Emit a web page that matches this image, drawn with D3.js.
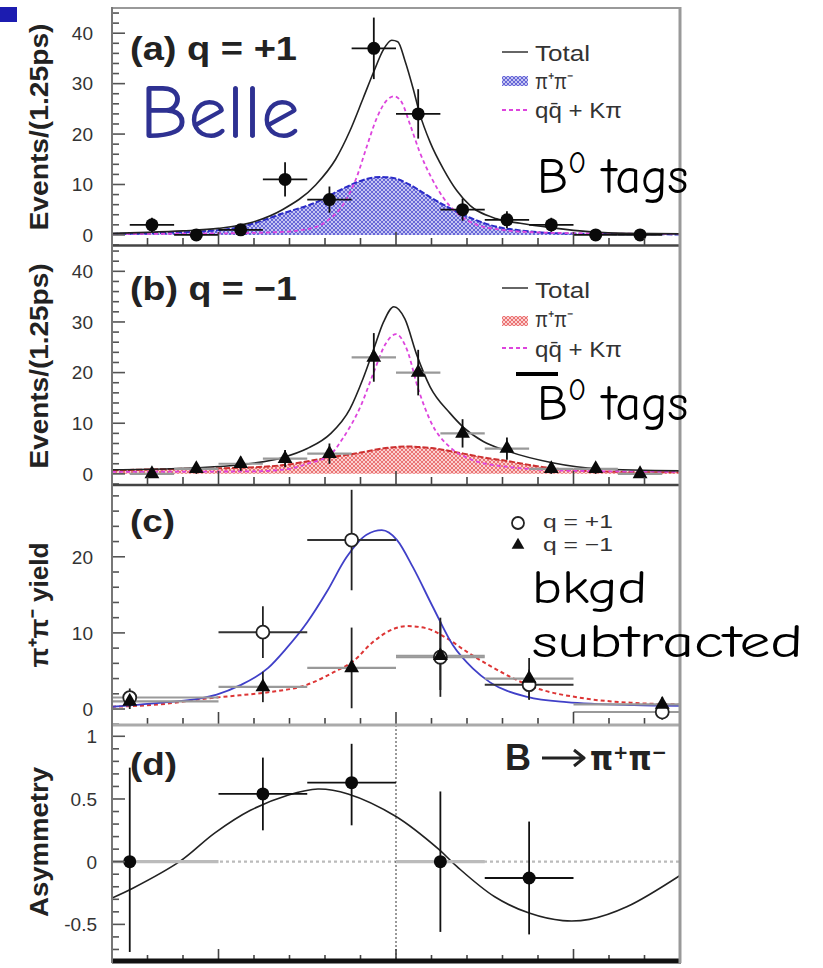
<!DOCTYPE html>
<html><head><meta charset="utf-8">
<script src="https://cdn.jsdelivr.net/npm/d3@7"></script>
<style>body{margin:0;background:#fff}</style>
</head><body>
<svg id="c" width="823" height="968" xmlns="http://www.w3.org/2000/svg"></svg>
<script>
// ---------------- DATA ----------------
// Panels (a),(b): 1.25 ps bins
const binCentersAB = [-6.875,-5.625,-4.375,-3.125,-1.875,-0.625,0.625,1.875,3.125,4.375,5.625,6.875];
const binHalfAB = 0.625;
const eventsA = [2,0,1,11,7,37,24,5,3,2,0,0];
const errA    = [1.4,0,1,3.4,2.6,6.1,4.9,2.2,1.7,1.4,0,0];
const eventsB = [0,1,2,3,4,23,20,8,5,1,1,0];
const errB    = [0,1,1.4,1.7,2,4.8,4.5,2.8,2.2,1,1,0];

// Panel (a) curves
const totalA_t = [-8,-7,-6,-5,-4.1,-3.2,-2.25,-1.7,-1.3,-0.92,-0.63,-0.35,-0.12,0.05,0.25,0.48,0.67,0.96,1.34,1.71,2.09,2.84,3.5,4.4,5.5,6.5,8];
const totalA_v = [0.3,0.5,0.8,1.3,2.4,5.0,10.0,15.0,20.6,27.2,32.3,36.8,38.6,38.3,34.6,29.1,24.0,18.4,13.0,8.8,5.8,3.2,2.3,1.4,0.6,0.3,0.2];
const bkgA_t = [-8,-5,-3.2,-2.24,-1.9,-1.49,-1.1,-0.82,-0.54,-0.26,-0.05,0.16,0.4,0.67,1.0,1.34,1.71,2.28,3,4,5.5,8];
const bkgA_v = [0.2,0.3,0.6,1.6,3.0,6.0,11.6,17.6,23.2,26.7,27.5,26.3,21.8,16.4,11.3,7.3,4.4,2.0,1.0,0.5,0.3,0.2];
const sigA_t = [-8,-6.5,-5.5,-4.6,-4.1,-3.18,-2.24,-1.49,-0.92,-0.45,-0.08,0.4,0.96,1.52,2.09,2.84,3.5,4.3,5.5,8];
const sigA_v = [0.2,0.4,0.7,1.3,2.1,4.3,6.5,9.2,10.9,11.5,11.3,9.9,7.5,5.3,3.4,1.6,0.9,0.4,0.2,0.1];

// Panel (b) curves
const totalB_t = [-8,-6.9,-5.6,-4.4,-3.2,-2.5,-1.85,-1.3,-0.93,-0.63,-0.35,-0.06,0.25,0.58,0.96,1.52,1.9,2.46,3.1,4.4,5.7,8];
const totalB_v = [0.8,0.9,1.2,1.8,3.2,5.0,7.9,12.8,18.8,24.6,30.0,33.0,30.6,23.6,17.2,12.0,9.2,6.4,4.6,2.2,1.0,0.6];
const bkgB_t = [-8,-4,-3,-2.5,-1.85,-1.5,-1.0,-0.63,-0.3,0,0.3,0.63,1.0,1.5,2.0,3.0,5,8];
const bkgB_v = [0.4,0.5,1.0,2.0,3.8,7.0,13.3,20,25.6,27.6,24.7,16.7,10,5.4,3.2,1.5,0.6,0.4];
const sigB_t = [-8,-6,-4.4,-3.1,-2.0,-1.0,-0.3,0.3,1.0,1.9,2.5,2.9,4.3,5.7,8];
const sigB_v = [0.7,1.0,1.2,1.8,3.1,4.2,5.1,5.4,5.1,4.0,3.2,2.8,1.2,0.5,0.3];

// Panel (c): background-subtracted yields
const cCenters = [-7.5,-3.75,-1.25,1.25,3.75,7.5];
const cLo = [-10,-5,-2.5,0,2.5,5];
const cHi = [-5,-2.5,0,2.5,5,10];
const yieldPlus  = [1.5,10.1,22.2,6.8,3.2,-0.4];
const errPlus    = [1.2,3.4,6.6,5.2,2.0,1.0];
const yieldMinus = [1.0,2.9,5.4,7.0,4.0,0.6];
const errMinus   = [1.0,2.0,5.3,4.5,2.7,1.0];
const fitPlus_t = [-8,-6.45,-5.5,-5.05,-4.4,-3.6,-3.1,-2.5,-1.95,-1.4,-0.83,-0.4,0.03,0.48,1.05,1.6,2.17,2.65,3.7,4.8,6.7,8];
const fitPlus_v = [0.3,0.9,1.4,1.9,3.1,5.4,7.9,11.4,15.4,19.9,22.9,23.5,22.2,18.6,13.3,8.4,5.3,3.5,1.6,0.9,0.5,0.4];
const fitMinus_t = [-8,-6.45,-5.5,-4.4,-3.6,-2.5,-1.77,-1.2,-0.65,-0.08,0.3,0.86,1.43,2.0,2.6,3.86,5.3,6.7,8];
const fitMinus_v = [0.3,0.7,1.3,1.8,2.2,3.2,4.8,6.3,8.8,10.5,10.9,10.6,9.3,7.5,5.8,2.9,1.4,0.8,0.6];

// Panel (d): asymmetry
const asymCenters = [-7.5,-3.75,-1.25,1.25,3.75];
const asymLo = [-10,-5,-2.5,0,2.5];
const asymHi = [-5,-2.5,0,2.5,5];
const asymVal = [0.0,0.54,0.63,0.0,-0.13];
const asymErrUp = [0.75,0.29,0.31,0.56,0.45];
const asymErrDn = [0.72,0.29,0.34,0.56,0.45];
const asymFit_t = [-8,-7.4,-6.1,-5.1,-4.1,-3.05,-2.2,-1.35,0,1.2,1.72,2.78,3.75,4.7,5.45,6.5,8];
const asymFit_v = [-0.29,-0.21,0.0,0.23,0.41,0.53,0.58,0.54,0.36,0.10,-0.04,-0.28,-0.41,-0.47,-0.46,-0.36,-0.11];

// Tick labels
const ticksAB = [0,10,20,30,40];
const ticksC = [0,10,20];
const ticksD = [-0.5,0,0.5,1];

// ---------------- DRAW ----------------
const svg = d3.select('#c');
const FONT = "'Liberation Sans', Arial, Helvetica, sans-serif";
const HAND = "'Comic Sans MS','Comic Neue','DejaVu Sans',sans-serif";
const X0 = 112, X1 = 680;
const x = d3.scaleLinear().domain([-8, 8]).range([X0, X1]);

const defs = svg.append('defs');
function hatch(id, bg, fg) {
  const p = defs.append('pattern').attr('id', id).attr('patternUnits', 'userSpaceOnUse')
    .attr('width', 4).attr('height', 4);
  p.append('rect').attr('width', 4).attr('height', 4).attr('fill', bg);
  p.append('path').attr('d', 'M0,0L4,4M4,0L0,4').attr('stroke', fg).attr('stroke-width', 0.9);
}
hatch('hb', '#c4c4f2', '#5c5cd4');
hatch('hr', '#fbd0d0', '#e86a6a');

const P = {
  a: {top: 8,   bottom: 245, dom: [-2, 45]},
  b: {top: 246, bottom: 484, dom: [-2, 45]},
  c: {top: 486, bottom: 725, dom: [-2.1, 29.3]},
  d: {top: 725, bottom: 962, dom: [-0.8, 1.09]}
};
Object.entries(P).forEach(([k, p]) => {
  p.y = d3.scaleLinear().domain(p.dom).range([p.bottom, p.top]);
  defs.append('clipPath').attr('id', 'clip' + k)
    .append('rect').attr('x', X0).attr('y', p.top).attr('width', X1 - X0).attr('height', p.bottom - p.top);
  p.g = svg.append('g').attr('clip-path', `url(#clip${k})`);
});

function axes(p, majors, minorStep, fmt, labelRight) {
  const g = svg.append('g');
  const [lo, hi] = p.dom;
  const minors = d3.range(Math.ceil(lo / minorStep) * minorStep, hi + 1e-9, minorStep);
  minors.forEach(v => {
    const isMaj = majors.some(m => Math.abs(m - v) < 1e-6);
    g.append('line').attr('x1', X0).attr('x2', X0 + (isMaj ? 13 : 7))
      .attr('y1', p.y(v)).attr('y2', p.y(v)).attr('stroke', '#555').attr('stroke-width', 1.6);
  });
  majors.forEach(v => {
    g.append('text').attr('x', labelRight).attr('y', p.y(v)).attr('dy', '0.36em')
      .attr('text-anchor', 'end').attr('font-family', FONT).attr('font-size', 19)
      .attr('fill', '#333').text(fmt(v));
  });
  d3.range(-7, 8, 1).forEach(t => {
    const maj = (t % 5 === 0);
    g.append('line').attr('x1', x(t)).attr('x2', x(t))
      .attr('y1', p.bottom).attr('y2', p.bottom - (maj ? 13 : 7))
      .attr('stroke', '#444').attr('stroke-width', 1.6);
  });
}

const line = (sx, sy) => d3.line().x((d) => x(d[0])).y((d) => sy(d[1])).curve(d3.curveMonotoneX);
const zipT = (t, v) => t.map((tt, i) => [tt, v[i]]);

// ----- Panel (a) -----
(function () {
  const p = P.a, g = p.g, y = p.y;
  const area = d3.area().x(d => x(d[0])).y0(y(0)).y1(d => y(d[1])).curve(d3.curveMonotoneX);
  const sig = zipT(sigA_t, sigA_v);
  g.append('path').attr('d', area(sig)).attr('fill', 'url(#hb)');
  g.append('path').attr('d', line(x, y)(sig)).attr('fill', 'none').attr('stroke', '#2b2bc8').attr('stroke-width', 2).attr('stroke-dasharray', '6,2');
  g.append('path').attr('d', line(x, y)(zipT(bkgA_t, bkgA_v))).attr('fill', 'none').attr('stroke', '#dd44dd').attr('stroke-width', 1.8).attr('stroke-dasharray', '4,3');
  g.append('path').attr('d', line(x, y)(zipT(totalA_t, totalA_v))).attr('fill', 'none').attr('stroke', '#222').attr('stroke-width', 1.6);
  binCentersAB.forEach((t, i) => {
    const v = eventsA[i], e = errA[i];
    g.append('line').attr('x1', x(t - binHalfAB)).attr('x2', x(t + binHalfAB)).attr('y1', y(v)).attr('y2', y(v)).attr('stroke', '#111').attr('stroke-width', 1.8);
    if (e > 0) g.append('line').attr('x1', x(t)).attr('x2', x(t)).attr('y1', y(v - e)).attr('y2', y(v + e)).attr('stroke', '#111').attr('stroke-width', 1.8);
    g.append('circle').attr('cx', x(t)).attr('cy', y(v)).attr('r', 6.5).attr('fill', '#0a0a0a');
  });
  axes(p, ticksAB, 2, d => d, 93);
})();

// ----- Panel (b) -----
(function () {
  const p = P.b, g = p.g, y = p.y;
  const area = d3.area().x(d => x(d[0])).y0(y(0)).y1(d => y(d[1])).curve(d3.curveMonotoneX);
  const sig = zipT(sigB_t, sigB_v);
  g.append('path').attr('d', area(sig)).attr('fill', 'url(#hr)');
  g.append('path').attr('d', line(x, y)(sig)).attr('fill', 'none').attr('stroke', '#cc3030').attr('stroke-width', 2).attr('stroke-dasharray', '6,2');
  g.append('path').attr('d', line(x, y)(zipT(bkgB_t, bkgB_v))).attr('fill', 'none').attr('stroke', '#dd44dd').attr('stroke-width', 1.8).attr('stroke-dasharray', '4,3');
  g.append('path').attr('d', line(x, y)(zipT(totalB_t, totalB_v))).attr('fill', 'none').attr('stroke', '#222').attr('stroke-width', 1.6);
  const tri = d3.symbol(d3.symbolTriangle).size(95);
  binCentersAB.forEach((t, i) => {
    const v = eventsB[i], e = errB[i];
    g.append('line').attr('x1', x(t - binHalfAB)).attr('x2', x(t + binHalfAB)).attr('y1', y(v)).attr('y2', y(v)).attr('stroke', '#999').attr('stroke-width', 2.2);
    if (e > 0) g.append('line').attr('x1', x(t)).attr('x2', x(t)).attr('y1', y(v - e)).attr('y2', y(v + e)).attr('stroke', '#111').attr('stroke-width', 1.8);
    g.append('path').attr('d', tri).attr('transform', `translate(${x(t)},${y(v)})`).attr('fill', '#0a0a0a');
  });
  axes(p, ticksAB, 2, d => d, 93);
})();

// ----- Panel (c) -----
(function () {
  const p = P.c, g = p.g, y = p.y;
  g.append('path').attr('d', line(x, y)(zipT(fitMinus_t, fitMinus_v))).attr('fill', 'none').attr('stroke', '#dd3535').attr('stroke-width', 2).attr('stroke-dasharray', '4,3');
  g.append('path').attr('d', line(x, y)(zipT(fitPlus_t, fitPlus_v))).attr('fill', 'none').attr('stroke', '#4040c8').attr('stroke-width', 1.8);
  const tri = d3.symbol(d3.symbolTriangle).size(95);
  cCenters.forEach((t, i) => {
    const outer = (i === 0 || i === cCenters.length - 1);
    const vm = yieldMinus[i], em = errMinus[i];
    g.append('line').attr('x1', x(cLo[i])).attr('x2', x(cHi[i])).attr('y1', y(vm)).attr('y2', y(vm)).attr('stroke', '#999').attr('stroke-width', 2.2);
    g.append('line').attr('x1', x(t)).attr('x2', x(t)).attr('y1', y(vm - em)).attr('y2', y(vm + em)).attr('stroke', '#222').attr('stroke-width', 1.8);
    const vp = yieldPlus[i], ep = errPlus[i];
    g.append('line').attr('x1', x(cLo[i])).attr('x2', x(cHi[i])).attr('y1', y(vp)).attr('y2', y(vp)).attr('stroke', (outer || i === 3) ? '#999' : '#333').attr('stroke-width', 2);
    g.append('line').attr('x1', x(t)).attr('x2', x(t)).attr('y1', y(vp - ep)).attr('y2', y(vp + ep)).attr('stroke', '#222').attr('stroke-width', 1.8);
  });
  cCenters.forEach((t, i) => {
    g.append('circle').attr('cx', x(t)).attr('cy', y(yieldPlus[i])).attr('r', 6.5).attr('fill', '#fff').attr('stroke', '#222').attr('stroke-width', 1.8);
    g.append('path').attr('d', tri).attr('transform', `translate(${x(t)},${y(yieldMinus[i])})`).attr('fill', '#0a0a0a');
  });
  axes(p, ticksC, 2, d => d, 93);
})();

// ----- Panel (d) -----
(function () {
  const p = P.d, g = p.g, y = p.y;
  g.append('line').attr('x1', X0).attr('x2', X1).attr('y1', y(0)).attr('y2', y(0)).attr('stroke', '#bbb').attr('stroke-width', 2.2).attr('stroke-dasharray', '3,3');
  g.append('line').attr('x1', x(0)).attr('x2', x(0)).attr('y1', p.top).attr('y2', p.bottom).attr('stroke', '#333').attr('stroke-width', 1).attr('stroke-dasharray', '2,2');
  g.append('path').attr('d', d3.line().x(d => x(d[0])).y(d => y(d[1])).curve(d3.curveCatmullRom.alpha(0.5))(zipT(asymFit_t, asymFit_v))).attr('fill', 'none').attr('stroke', '#222').attr('stroke-width', 1.6);
  asymCenters.forEach((t, i) => {
    const v = asymVal[i];
    const zero = Math.abs(v) < 1e-9;
    g.append('line').attr('x1', x(asymLo[i])).attr('x2', x(asymHi[i])).attr('y1', y(v)).attr('y2', y(v))
      .attr('stroke', zero ? '#bbb' : '#111').attr('stroke-width', zero ? 3.2 : 1.8);
    g.append('line').attr('x1', x(t)).attr('x2', x(t)).attr('y1', y(v - asymErrDn[i])).attr('y2', y(v + asymErrUp[i])).attr('stroke', '#111').attr('stroke-width', 1.8);
    g.append('circle').attr('cx', x(t)).attr('cy', y(v)).attr('r', 6.5).attr('fill', '#0a0a0a');
  });
  axes(p, ticksD, 0.1, d => d, 97);
})();

// ----- Frames -----
const fr = svg.append('g');
fr.append('line').attr('x1', X0).attr('x2', X1).attr('y1', 8).attr('y2', 8).attr('stroke', '#999').attr('stroke-width', 2);
fr.append('line').attr('x1', X0).attr('x2', X1).attr('y1', 245.5).attr('y2', 245.5).attr('stroke', '#444').attr('stroke-width', 2.5);
fr.append('line').attr('x1', X0).attr('x2', X1).attr('y1', 485).attr('y2', 485).attr('stroke', '#444').attr('stroke-width', 2.5);
fr.append('line').attr('x1', X0).attr('x2', X1).attr('y1', 725).attr('y2', 725).attr('stroke', '#aaa').attr('stroke-width', 3);
fr.append('line').attr('x1', X0).attr('x2', X1 + 1).attr('y1', 961).attr('y2', 961).attr('stroke', '#111').attr('stroke-width', 5);
fr.append('line').attr('x1', X0).attr('x2', X0).attr('y1', 7).attr('y2', 963).attr('stroke', '#777').attr('stroke-width', 2);
fr.append('line').attr('x1', X1).attr('x2', X1).attr('y1', 7).attr('y2', 963).attr('stroke', '#999').attr('stroke-width', 3);

// ----- Axis titles -----
function ytitle(txt, cx, cy, len) {
  svg.append('text').attr('transform', `translate(${cx},${cy}) rotate(-90)`)
    .attr('text-anchor', 'middle').attr('font-family', FONT).attr('font-weight', 'bold')
    .attr('font-size', 26).attr('fill', '#222')
    .attr('textLength', len).attr('lengthAdjust', 'spacingAndGlyphs').text(txt);
}
ytitle('Events/(1.25ps)', 48, 127, 207);
ytitle('Events/(1.25ps)', 48, 366, 205);
ytitle('π⁺π⁻ yield', 48, 605, 125);
ytitle('Asymmetry', 48, 842, 150);

// ----- Panel labels -----
function lbl(txt, x0, y0, len, size, fam) {
  svg.append('text').attr('x', x0).attr('y', y0).attr('font-family', fam || FONT).attr('font-weight', 'bold')
    .attr('font-size', size).attr('fill', '#222')
    .attr('textLength', len).attr('lengthAdjust', 'spacingAndGlyphs').text(txt);
}
lbl('(a) q = +1', 130, 60, 167, 34);
lbl('(b) q = −1', 130, 300, 167, 34);
lbl('(c)', 130, 532, 45, 32);
lbl('(d)', 130, 775, 47, 32);

// B -> pi+ pi- label in panel (d)
lbl('B', 505, 770, 26, 36);
svg.append('path').attr('d', 'M542,758 L583,758 M574,750 L584,758 L574,766')
  .attr('fill', 'none').attr('stroke', '#222').attr('stroke-width', 3).attr('stroke-linejoin', 'round');
lbl('π⁺π⁻', 590, 770, 77, 34, "'DejaVu Sans', sans-serif");

// ----- Legends -----
function ltext(txt, x0, y0, len, size) {
  svg.append('text').attr('x', x0).attr('y', y0).attr('font-family', FONT).attr('font-size', size || 22)
    .attr('fill', '#333').attr('textLength', len).attr('lengthAdjust', 'spacingAndGlyphs').text(txt);
}
// (a)
svg.append('line').attr('x1', 502).attr('x2', 528).attr('y1', 52).attr('y2', 52).attr('stroke', '#666').attr('stroke-width', 2);
ltext('Total', 535, 61, 55);
svg.append('rect').attr('x', 502).attr('y', 76).attr('width', 26).attr('height', 10).attr('fill', 'url(#hb)');
ltext('π⁺π⁻', 535, 89, 38);
svg.append('line').attr('x1', 502).attr('x2', 528).attr('y1', 110).attr('y2', 110).attr('stroke', '#dd44dd').attr('stroke-width', 1.8).attr('stroke-dasharray', '4,3');
ltext('qq̄ + Kπ', 535, 118, 87);
// (b)
svg.append('line').attr('x1', 502).attr('x2', 528).attr('y1', 288).attr('y2', 288).attr('stroke', '#666').attr('stroke-width', 2);
ltext('Total', 535, 298, 55);
svg.append('rect').attr('x', 502).attr('y', 316).attr('width', 26).attr('height', 10).attr('fill', 'url(#hr)');
ltext('π⁺π⁻', 535, 327, 38);
svg.append('line').attr('x1', 502).attr('x2', 528).attr('y1', 348).attr('y2', 348).attr('stroke', '#dd44dd').attr('stroke-width', 1.8).attr('stroke-dasharray', '4,3');
ltext('qq̄ + Kπ', 535, 357, 87);
// (c)
svg.append('circle').attr('cx', 518).attr('cy', 523).attr('r', 6).attr('fill', '#fff').attr('stroke', '#222').attr('stroke-width', 1.8);
ltext('q = +1', 543, 528, 70, 19);
svg.append('path').attr('d', d3.symbol(d3.symbolTriangle).size(70)).attr('transform', 'translate(518,545)').attr('fill', '#111');
ltext('q = −1', 543, 551, 70, 19);

// ----- Slide annotations -----
svg.append('rect').attr('x', 0).attr('y', 7).attr('width', 17).attr('height', 15).attr('fill', '#1c1cb0');
svg.append('text').attr('x', 140).attr('y', 138).attr('font-family', HAND).attr('font-size', 76)
  .attr('fill', '#2e3192').attr('textLength', 160).attr('lengthAdjust', 'spacingAndGlyphs').text('Belle');

function tagText(y0) {
  const t = svg.append('text').attr('x', 537).attr('y', y0).attr('font-family', HAND).attr('font-size', 50).attr('fill', '#000');
  t.append('tspan').text('B');
  t.append('tspan').attr('font-size', 30).attr('dy', -20).text('0');
  t.append('tspan').attr('dy', 20).attr('dx', 16).text('tags');
  return t;
}
tagText(193);
tagText(420);
svg.append('rect').attr('x', 516).attr('y', 372).attr('width', 42).attr('height', 4).attr('fill', '#000');
svg.append('text').attr('x', 532).attr('y', 603).attr('font-family', HAND).attr('font-size', 46).attr('fill', '#000')
  .attr('textLength', 115).attr('lengthAdjust', 'spacingAndGlyphs').text('bkgd');
svg.append('text').attr('x', 532).attr('y', 657).attr('font-family', HAND).attr('font-size', 46).attr('fill', '#000')
  .attr('textLength', 271).attr('lengthAdjust', 'spacingAndGlyphs').text('subtracted');
</script>
</body></html>
